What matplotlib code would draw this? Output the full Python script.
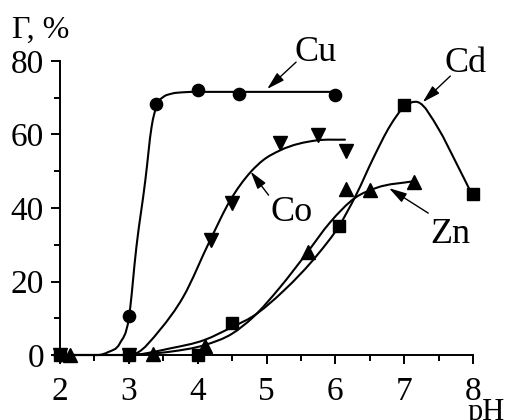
import numpy as np
import matplotlib
matplotlib.use('Agg')
import matplotlib.pyplot as plt
from matplotlib.path import Path
from matplotlib.patches import PathPatch
from matplotlib.ticker import MultipleLocator

plt.rcParams['font.family'] = ['Liberation Serif', 'DejaVu Serif']

# measured points
cu_ph = [2.0, 3.0, 3.4, 4.0, 4.6, 6.0]
cu_g = [0, 10.5, 68.2, 72.2, 71.0, 70.8]
co_ph = [2.0, 3.0, 4.2, 4.5, 5.2, 5.75, 6.15]
co_g = [0, 0, 31.4, 41.4, 57.7, 59.8, 55.5]
cd_ph = [2.0, 3.0, 4.0, 4.5, 6.05, 7.0, 8.0]
cd_g = [0, 0, 0, 8.6, 35.2, 67.9, 43.9]
zn_ph = [2.15, 3.35, 4.1, 5.6, 6.15, 6.5, 7.15]
zn_g = [0, 0.3, 2.5, 28.0, 45.3, 44.8, 47.1]

# knots of the hand-drawn trend lines
cu_line_ph = [2.0, 2.55, 2.7, 2.87, 3.0, 3.11, 3.24, 3.33, 3.41, 3.5, 3.62, 3.8, 4.0, 6.0]
cu_line_g = [0, 0, 0.8, 3.2, 10.0, 29.4, 47.6, 62.0, 68.2, 70.2, 71.1, 71.5, 71.6, 71.6]
co_line_ph = [2.0, 2.95, 3.11, 3.45, 3.79, 4.18, 4.47, 4.77, 4.95, 5.2, 5.73, 6.14]
co_line_g = [0, 0, 0.5, 6.8, 15.8, 31.2, 42.0, 49.8, 53.0, 55.7, 58.4, 58.6]
cd_line_ph = [2.0, 3.0, 3.6, 4.1, 4.5, 4.8, 5.25, 5.75, 6.05, 6.3, 6.55, 6.8, 7.0, 7.2,
              7.5, 7.75, 7.98]
cd_line_g = [0, 0, 1.8, 4.1, 7.6, 10.5, 17.5, 27.5, 35.0, 43.5, 53.5, 62.5, 67.5, 68.8,
             61.5, 52.5, 43.9]
zn_line_ph = [3.0, 3.6, 4.1, 4.5, 4.8, 5.2, 5.58, 5.92, 6.29, 6.6, 7.14]
zn_line_g = [0, 0.9, 2.7, 5.8, 10.2, 18.5, 27.6, 36.0, 42.8, 45.5, 47.3]


def trend_path(xs, ys):
    # cubic through the knots, drawn as bezier segments; flat stretches stay flat
    x = np.asarray(xs, float)
    y = np.asarray(ys, float)
    h = np.diff(x)
    delta = np.diff(y) / h
    d = np.zeros_like(y)
    for k in range(1, len(x) - 1):
        if delta[k - 1] == 0 or delta[k] == 0:
            continue
        d[k] = (h[k] * delta[k - 1] + h[k - 1] * delta[k]) / (h[k - 1] + h[k])
    d[0] = delta[0]
    d[-1] = delta[-1]
    verts = [(x[0], y[0])]
    codes = [Path.MOVETO]
    for k in range(len(x) - 1):
        verts += [(x[k] + h[k] / 3, y[k] + d[k] * h[k] / 3),
                  (x[k + 1] - h[k] / 3, y[k + 1] - d[k + 1] * h[k] / 3),
                  (x[k + 1], y[k + 1])]
        codes += [Path.CURVE4] * 3
    return Path(verts, codes)


fig = plt.figure(figsize=(5.16, 4.2), dpi=100)
ax = fig.add_axes([60 / 516, 65 / 420, 413 / 516, 294 / 420])

for lx, ly in [(cu_line_ph, cu_line_g), (co_line_ph, co_line_g),
               (cd_line_ph, cd_line_g), (zn_line_ph, zn_line_g)]:
    ax.add_patch(PathPatch(trend_path(lx, ly), fill=False, lw=1.5, ec='black',
                           capstyle='round', clip_on=False))

ax.plot(cu_ph, cu_g, 'o', ms=8.8, color='black', clip_on=False)
ax.plot(co_ph, co_g, 'v', ms=9.5, color='black', clip_on=False)
ax.plot(cd_ph, cd_g, 's', ms=8.6, color='black', clip_on=False)
ax.plot(zn_ph, zn_g, '^', ms=9.5, color='black', clip_on=False)

arrow = dict(arrowstyle='-|>,head_length=0.6,head_width=0.17', lw=1.0, color='black',
             shrinkA=0, shrinkB=0, mutation_scale=18)
ax.annotate('', xy=(5.01, 72.4), xytext=(5.43, 79.7), arrowprops=arrow, annotation_clip=False)
ax.annotate('', xy=(7.27, 68.8), xytext=(7.67, 75.9), arrowprops=arrow, annotation_clip=False)
ax.annotate('', xy=(4.77, 49.9), xytext=(5.03, 43.5), arrowprops=arrow, annotation_clip=False)
ax.annotate('', xy=(6.78, 45.4), xytext=(7.35, 38.6), arrowprops=arrow, annotation_clip=False)

ax.text(5.41, 80.0, 'Cu', fontsize=26, va='baseline', clip_on=False)
ax.text(7.58, 77.0, 'Cd', fontsize=26, va='baseline', clip_on=False)
ax.text(5.06, 36.5, 'Co', fontsize=26, va='baseline')
ax.text(7.38, 30.4, 'Zn', fontsize=26, va='baseline')

ax.set_xlim(2, 8)
ax.set_ylim(0, 80)
ax.xaxis.set_major_locator(MultipleLocator(1))
ax.xaxis.set_minor_locator(MultipleLocator(0.5))
ax.yaxis.set_major_locator(MultipleLocator(20))
ax.yaxis.set_minor_locator(MultipleLocator(10))
ax.tick_params(which='both', direction='out', width=1.4, labelsize=24)
ax.tick_params(which='major', length=6.5)
ax.tick_params(which='minor', length=4)
ax.tick_params(axis='x', pad=9)
ax.tick_params(axis='y', pad=5)
for side in ['top', 'right']:
    ax.spines[side].set_visible(False)
for side in ['left', 'bottom']:
    ax.spines[side].set_linewidth(1.4)

fig.text(12 / 516, 1 - 38 / 420, 'Γ, %', fontsize=23, va='baseline')
fig.text(468 / 516, 0.0, 'pH', fontsize=22, va='baseline')

fig.savefig('out.png', dpi=100)
